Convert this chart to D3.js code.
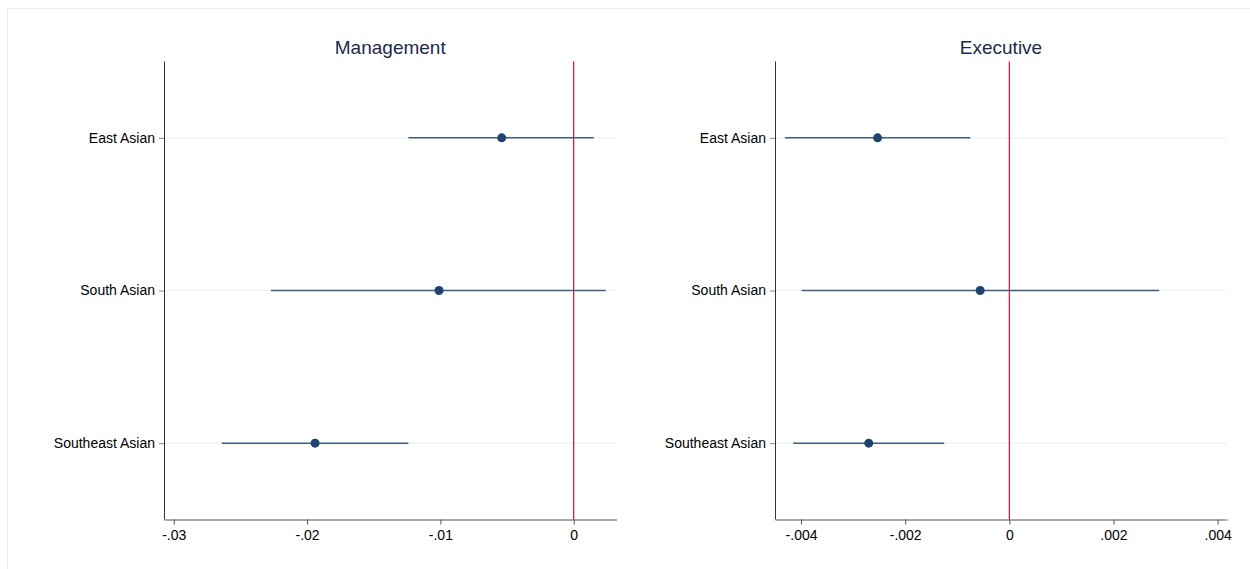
<!DOCTYPE html>
<html>
<head>
<meta charset="utf-8">
<script src="https://cdn.jsdelivr.net/npm/d3@7"></script>
<style>
  body { margin: 0; background: #fff; }
  svg { display: block; font-family: "Liberation Sans", Arial, Helvetica, sans-serif; }
</style>
</head>
<body>
<svg width="1250" height="569"></svg>
<script>
// categories and coefficient estimates with confidence bounds
var categories = ['East Asian', 'South Asian', 'Southeast Asian'];

var mgmtEst = [-0.0054, -0.0101, -0.0194];
var mgmtLo = [-0.0124, -0.0227, -0.0264];
var mgmtHi = [0.0015, 0.0024, -0.0124];
var mgmtTicks = [-0.03, -0.02, -0.01, 0];

var execEst = [-0.00253, -0.00056, -0.00270];
var execLo = [-0.00431, -0.00399, -0.00415];
var execHi = [-0.00075, 0.00288, -0.00125];
var execTicks = [-0.004, -0.002, 0, 0.002, 0.004];

var svg = d3.select('svg');

// faint outer frame
svg.append('rect')
  .attr('x', 7.5).attr('y', 8.5)
  .attr('width', 1260).attr('height', 600)
  .attr('fill', 'none')
  .attr('stroke', '#ececec');

// (window.top is read-only, so don't call it "top")
var plotTop = 61.5, plotBottom = 519.5;

// strip the leading zero like stata does: -.01, .002
function fmt(d) {
  if (d === 0) return '0';
  return String(d).replace('0.', '.');
}

function drawPanel(opt) {
  var x = d3.scaleLinear().domain(opt.domain).range([opt.left, opt.right]);
  var y = d3.scalePoint().domain(categories).range([plotTop, plotBottom]).padding(0.5);

  var g = svg.append('g');

  // horizontal gridlines
  g.selectAll('.grid')
    .data(categories)
    .enter()
    .append('line')
      .attr('x1', opt.left).attr('x2', opt.right)
      .attr('y1', d => y(d)).attr('y2', d => y(d))
      .attr('stroke', '#eef1f2')
      .attr('stroke-width', 1.2);

  // reference line at zero
  g.append('line')
    .attr('x1', x(0)).attr('x2', x(0))
    .attr('y1', plotTop).attr('y2', plotBottom)
    .attr('stroke', '#c8102e')
    .attr('stroke-width', 1.2);

  var rows = categories.map((c, i) => ({cat: c, est: opt.est[i], lo: opt.lo[i], hi: opt.hi[i]}));

  // CI lines
  g.selectAll('.ci')
    .data(rows)
    .enter()
    .append('line')
      .attr('x1', d => x(d.lo)).attr('x2', d => x(d.hi))
      .attr('y1', d => y(d.cat)).attr('y2', d => y(d.cat))
      .attr('stroke', '#3f5d83')
      .attr('stroke-width', 1.5);

  g.selectAll('.pt')
    .data(rows)
    .enter()
    .append('circle')
      .attr('cx', d => x(d.est))
      .attr('cy', d => y(d.cat))
      .attr('r', 4.5)
      .attr('fill', '#1f4470');

  // y axis
  var yAxis = d3.axisLeft(y).tickSize(5).tickSizeOuter(0).tickPadding(4);
  var ya = g.append('g')
    .attr('transform', 'translate(' + opt.left + ',0)')
    .call(yAxis);
  ya.select('.domain').attr('stroke', '#333').attr('d', 'M0.5,' + plotTop + 'V' + plotBottom);
  ya.selectAll('.tick line').attr('stroke', '#888');
  ya.selectAll('text').attr('fill', '#000').style('font-size', '14px');

  // x axis
  var xAxis = d3.axisBottom(x).tickValues(opt.ticks).tickFormat(fmt).tickSize(5).tickSizeOuter(0).tickPadding(6);
  var xa = g.append('g')
    .attr('transform', 'translate(0,' + plotBottom + ')')
    .call(xAxis);
  xa.select('.domain').attr('stroke', '#555');
  xa.selectAll('.tick line').attr('stroke', '#555');
  xa.selectAll('text').attr('fill', '#000').style('font-size', '14px');

  // title
  svg.append('text')
    .attr('x', (opt.left + opt.right) / 2)
    .attr('y', 54)
    .attr('text-anchor', 'middle')
    .style('font-size', '19px')
    .attr('fill', '#1c2a4e')
    .text(opt.title);
}

drawPanel({
  title: 'Management',
  left: 164, right: 616.5,
  domain: [-0.03073, 0.00321],
  ticks: mgmtTicks,
  est: mgmtEst, lo: mgmtLo, hi: mgmtHi
});

drawPanel({
  title: 'Executive',
  left: 775, right: 1227,
  domain: [-0.0045, 0.00418],
  ticks: execTicks,
  est: execEst, lo: execLo, hi: execHi
});
</script>
</body>
</html>
